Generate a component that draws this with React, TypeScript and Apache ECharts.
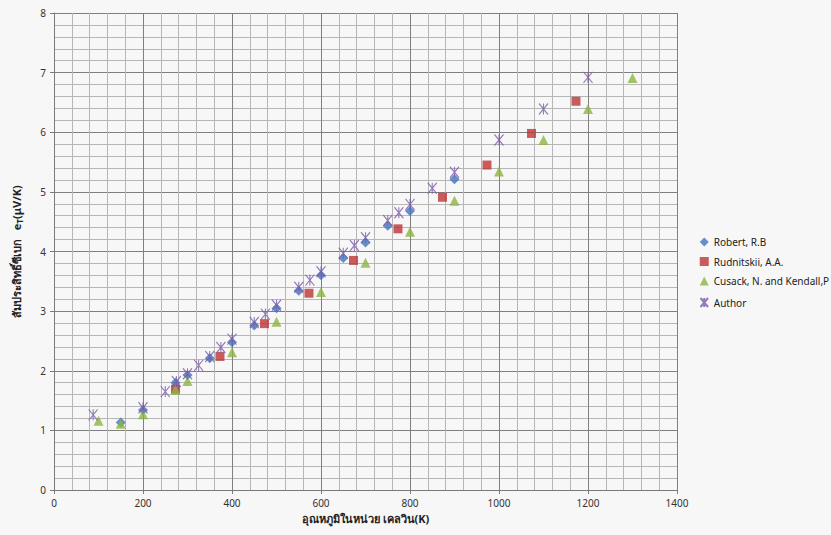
import React, { useEffect, useRef } from "react";
import * as echarts from "echarts";

const seriesNames = ["Robert, R.B", "Rudnitskii, A.A.", "Cusack, N. and Kendall,P", "Author"];

const robertX = [150, 200, 273, 300, 350, 400, 450, 500, 550, 600, 650, 700, 750, 800, 900];
const robertY = [1.13, 1.34, 1.8, 1.93, 2.21, 2.48, 2.76, 3.05, 3.34, 3.6, 3.89, 4.15, 4.43, 4.68, 5.21];

const rudnitskiiX = [273, 373, 473, 573, 673, 773, 873, 973, 1073, 1173];
const rudnitskiiY = [1.69, 2.24, 2.79, 3.3, 3.85, 4.38, 4.91, 5.45, 5.98, 6.52];

const cusackX = [100, 150, 200, 273, 300, 400, 500, 600, 700, 800, 900, 1000, 1100, 1200, 1300];
const cusackY = [1.16, 1.11, 1.27, 1.68, 1.83, 2.31, 2.82, 3.32, 3.81, 4.33, 4.85, 5.34, 5.87, 6.39, 6.91];

const authorX = [88, 200, 250, 275, 300, 325, 350, 375, 400, 450, 475, 500, 550, 575, 600, 650, 675, 700, 750, 775, 800, 850, 900, 1000, 1100, 1200];
const authorY = [1.26, 1.38, 1.65, 1.82, 1.95, 2.09, 2.24, 2.39, 2.53, 2.81, 2.95, 3.1, 3.4, 3.52, 3.66, 3.97, 4.1, 4.23, 4.52, 4.65, 4.79, 5.06, 5.33, 5.87, 6.39, 6.92];

const zip = (xs: number[], ys: number[]) => xs.map((x, i) => [x, ys[i]]);

const FONT = "'Noto Sans', 'DejaVu Sans', Lato, sans-serif";

export default function App() {
  const ref = useRef<HTMLDivElement>(null);
  useEffect(() => {
    if (!ref.current) return;
    const chart = echarts.init(ref.current, null, { renderer: "svg" });
    const axisLabel = { color: "#333", fontSize: 10, fontFamily: FONT, formatter: (v: number) => String(v) };
    chart.setOption({
      animation: false,
      backgroundColor: "#f7f7f7",
      textStyle: { fontFamily: FONT },
      grid: { left: 54, right: 154, top: 13, bottom: 45 },
      legend: {
        orient: "vertical",
        left: 693,
        top: 232,
        itemGap: 9.5,
        itemWidth: 9,
        itemHeight: 9,
        textStyle: { fontSize: 10, color: "#222", fontFamily: FONT },
        data: seriesNames,
      },
      xAxis: {
        type: "value",
        min: 0,
        max: 1400,
        interval: 200,
        name: "อุณหภูมิในหน่วย เคลวิน(K)",
        nameLocation: "middle",
        nameGap: 19,
        nameTextStyle: { fontSize: 11, fontWeight: "bold", color: "#222", fontFamily: FONT },
        axisLine: { lineStyle: { color: "#7a7a7a" } },
        axisTick: { show: true, length: 4, lineStyle: { color: "#7a7a7a" } },
        axisLabel: { ...axisLabel, margin: 8 },
        splitLine: { show: true, lineStyle: { color: "#7f7f7f", width: 1 } },
        minorTick: { show: false, splitNumber: 5 },
        minorSplitLine: { show: true, lineStyle: { color: "#b6b6b6", width: 1 } },
      },
      yAxis: {
        type: "value",
        min: 0,
        max: 8,
        interval: 1,
        name: "{a|สัมประสิทธิ์ซีเบก   e}{s|T}{a|(μV/K)}",
        nameLocation: "middle",
        nameGap: 31,
        nameTextStyle: {
          rich: {
            a: { fontSize: 11, fontWeight: "bold", color: "#222", fontFamily: FONT },
            s: { fontSize: 8, fontWeight: "bold", color: "#222", fontFamily: FONT, padding: [6, 0, 0, 0] },
          },
        },
        axisLine: { show: true, lineStyle: { color: "#7a7a7a" } },
        axisTick: { show: true, length: 4, lineStyle: { color: "#7a7a7a" } },
        axisLabel: { ...axisLabel, margin: 8 },
        splitLine: { show: true, lineStyle: { color: "#7f7f7f", width: 1 } },
        minorTick: { show: false, splitNumber: 5 },
        minorSplitLine: { show: true, lineStyle: { color: "#b6b6b6", width: 1 } },
      },
      series: [
        {
          name: seriesNames[0],
          type: "scatter",
          symbol: "diamond",
          symbolSize: 10,
          itemStyle: { color: "#3f74bd" },
          data: zip(robertX, robertY),
        },
        {
          name: seriesNames[1],
          type: "scatter",
          symbol: "rect",
          symbolSize: 9,
          itemStyle: { color: "#bb3535" },
          data: zip(rudnitskiiX, rudnitskiiY),
        },
        {
          name: seriesNames[2],
          type: "scatter",
          symbol: "triangle",
          symbolSize: 10,
          itemStyle: { color: "#8db444" },
          data: zip(cusackX, cusackY),
        },
        {
          name: seriesNames[3],
          type: "scatter",
          symbol: "path://M0,0L10,12M10,0L0,12M5,0L5,12",
          symbolSize: [9, 11],
          itemStyle: { color: "none", borderColor: "#7b5aa8", borderWidth: 1.2 },
          data: zip(authorX, authorY),
        },
      ],
    });
    return () => chart.dispose();
  }, []);
  return <div ref={ref} style={{ width: 831, height: 535, position: "absolute", left: 0, top: 0 }} />;
}
